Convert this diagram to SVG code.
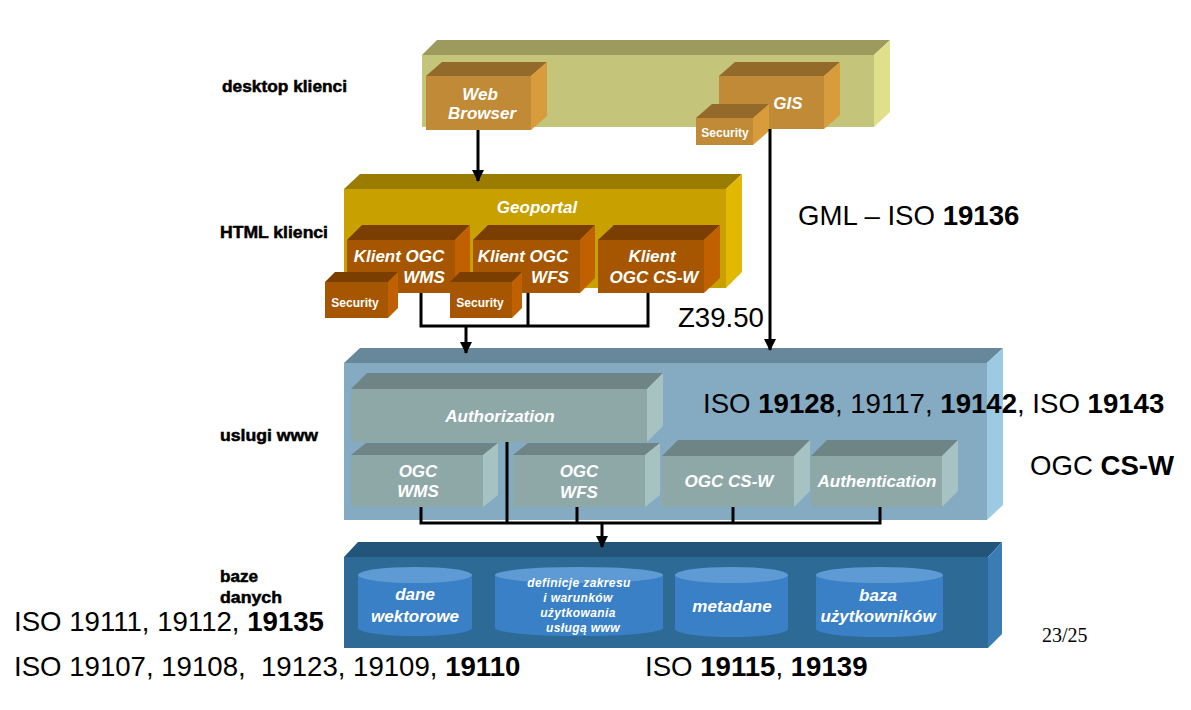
<svg xmlns="http://www.w3.org/2000/svg" width="1191" height="710" viewBox="0 0 1191 710">
<defs>
<marker id="arr" markerUnits="userSpaceOnUse" markerWidth="12" markerHeight="12" viewBox="0 0 12 12" refX="11" refY="6" orient="auto">
<path d="M0,0 L12,6 L0,12 Z" fill="#000"/>
</marker>
<style>
.lbl{font-family:"Liberation Sans",Arial,sans-serif;font-weight:bold;font-size:16px;fill:#000;stroke:#000;stroke-width:0.5px}
.std{font-family:"Liberation Sans",Arial,sans-serif;font-size:27.6px;fill:#000;white-space:pre}
.b{font-weight:bold}
.w{font-family:"Liberation Sans",Arial,sans-serif;font-weight:bold;font-style:italic;font-size:17px;fill:#fff;text-anchor:middle}
.sec{font-family:"Liberation Sans",Arial,sans-serif;font-weight:bold;font-size:12px;fill:#fff;text-anchor:middle}
.sm{font-family:"Liberation Sans",Arial,sans-serif;font-weight:bold;font-style:italic;font-size:12px;fill:#fff;text-anchor:middle;letter-spacing:0.4px}
.con{stroke:#000;stroke-width:3;fill:none}
.dF{fill:#c4c47a}.dT{fill:#9c9a5c}.dS{fill:#e0e08a}
.oF{fill:#c08a36}.oT{fill:#946a2a}.oS{fill:#d99c3c}
.gF{fill:#c8a000}.gT{fill:#9a7c00}.gS{fill:#e2b800}
.kF{fill:#a65600}.kT{fill:#7a3e00}.kS{fill:#c06000}
.sF{fill:#84abc2}.sT{fill:#66889a}.sS{fill:#9ccae2}
.bF{fill:#8ea8a8}.bT{fill:#6f8484}.bS{fill:#a6c2c2}
.zF{fill:#2e6a96}.zT{fill:#23557a}.zS{fill:#3a7cb4}
.cB{fill:#3a80c6}.cT{fill:#5e9bd4}
</style>
</defs>

<!-- Layer labels -->
<text class="lbl" x="222" y="92" textLength="125" lengthAdjust="spacingAndGlyphs">desktop klienci</text>
<text class="lbl" x="220" y="238" textLength="108" lengthAdjust="spacingAndGlyphs">HTML klienci</text>
<text class="lbl" x="220" y="441" textLength="98" lengthAdjust="spacingAndGlyphs">uslugi www</text>
<text class="lbl" x="220" y="582" textLength="38" lengthAdjust="spacingAndGlyphs">baze</text>
<text class="lbl" x="220" y="603" textLength="62" lengthAdjust="spacingAndGlyphs">danych</text>

<!-- Desktop band -->
<g id="desktop">
<polygon class="dT" points="422,55 437,40 890,40 874,55"/>
<rect class="dF" x="422" y="55" width="452" height="72"/>
<polygon class="dS" points="874,55 890,40 890,112 874,127"/>
</g>
<g id="webbrowser">
<polygon class="oT" points="426,76 442,62 547,62 531,76"/>
<rect class="oF" x="426" y="76" width="105" height="54"/>
<polygon class="oS" points="531,76 547,62 547,116 531,130"/>
<text class="w" x="480" y="100">Web</text>
<text class="w" x="482" y="119">Browser</text>
</g>
<g id="gis">
<polygon class="oT" points="719,76 735,62 840,62 824,76"/>
<rect class="oF" x="719" y="76" width="105" height="53"/>
<polygon class="oS" points="824,76 840,62 840,115 824,129"/>
<text class="w" x="788" y="109">GIS</text>
</g>
<g id="security-gis">
<polygon class="oT" points="696,118 712,104 769,104 753,118"/>
<rect class="oF" x="696" y="118" width="57" height="27"/>
<polygon class="oS" points="753,118 769,104 769,131 753,145"/>
<text class="sec" x="725" y="137">Security</text>
</g>

<!-- Geoportal band -->
<g id="geoportal">
<polygon class="gT" points="344,189 360,174 742,174 726,189"/>
<rect class="gF" x="344" y="189" width="382" height="99"/>
<polygon class="gS" points="726,189 742,174 742,272 726,288"/>
<text class="w" x="537" y="213">Geoportal</text>
</g>
<g id="klient-wms">
<polygon class="kT" points="347,240 362,225 470,225 455,240"/>
<rect class="kF" x="347" y="240" width="108" height="53"/>
<polygon class="kS" points="455,240 470,225 470,278 455,293"/>
<text class="w" x="399" y="262">Klient OGC</text>
<text class="w" x="424" y="283">WMS</text>
</g>
<g id="klient-wfs">
<polygon class="kT" points="473,240 488,225 595,225 580,240"/>
<rect class="kF" x="473" y="240" width="107" height="53"/>
<polygon class="kS" points="580,240 595,225 595,278 580,293"/>
<text class="w" x="523" y="262">Klient OGC</text>
<text class="w" x="550" y="283">WFS</text>
</g>
<g id="klient-csw">
<polygon class="kT" points="598,240 614,225 720,225 704,240"/>
<rect class="kF" x="598" y="240" width="106" height="53"/>
<polygon class="kS" points="704,240 720,225 720,278 704,293"/>
<text class="w" x="652" y="262">Klient</text>
<text class="w" x="654" y="283">OGC CS-W</text>
</g>
<g id="security-wms">
<polygon class="kT" points="325,282 335,272 398,272 388,282"/>
<rect class="kF" x="325" y="282" width="63" height="36"/>
<polygon class="kS" points="388,282 398,272 398,308 388,318"/>
<text class="sec" x="355" y="307">Security</text>
</g>
<g id="security-wfs">
<polygon class="kT" points="450,282 460,272 522,272 512,282"/>
<rect class="kF" x="450" y="282" width="62" height="36"/>
<polygon class="kS" points="512,282 522,272 522,308 512,318"/>
<text class="sec" x="480" y="307">Security</text>
</g>

<!-- Services band -->
<g id="uslugi">
<polygon class="sT" points="344,363 360,348 1003,348 987,363"/>
<rect class="sF" x="344" y="363" width="643" height="157"/>
<polygon class="sS" points="987,363 1003,348 1003,505 987,520"/>
</g>
<g id="authorization">
<polygon class="bT" points="351,389 367,373 663,373 647,389"/>
<rect class="bF" x="351" y="389" width="296" height="53"/>
<polygon class="bS" points="647,389 663,373 663,426 647,442"/>
<text class="w" x="500" y="422">Authorization</text>
</g>
<g id="ogc-wms">
<polygon class="bT" points="351,455 366,443 498,443 483,455"/>
<rect class="bF" x="351" y="455" width="132" height="52"/>
<polygon class="bS" points="483,455 498,443 498,495 483,507"/>
<text class="w" x="418" y="477">OGC</text>
<text class="w" x="418" y="497">WMS</text>
</g>
<g id="ogc-wfs">
<polygon class="bT" points="513,455 528,443 660,443 645,455"/>
<rect class="bF" x="513" y="455" width="132" height="52"/>
<polygon class="bS" points="645,455 660,443 660,495 645,507"/>
<text class="w" x="579" y="477">OGC</text>
<text class="w" x="579" y="498">WFS</text>
</g>
<g id="ogc-csw">
<polygon class="bT" points="662,456 678,440 810,440 794,456"/>
<rect class="bF" x="662" y="456" width="132" height="51"/>
<polygon class="bS" points="794,456 810,440 810,491 794,507"/>
<text class="w" x="729" y="487">OGC CS-W</text>
</g>
<g id="authentication">
<polygon class="bT" points="811,456 827,440 958,440 942,456"/>
<rect class="bF" x="811" y="456" width="131" height="51"/>
<polygon class="bS" points="942,456 958,440 958,491 942,507"/>
<text class="w" x="877" y="487">Authentication</text>
</g>

<!-- Database band -->
<g id="bazy">
<polygon class="zT" points="344,557 358,542 1002,542 988,557"/>
<rect class="zF" x="344" y="557" width="644" height="91"/>
<polygon class="zS" points="988,557 1002,542 1002,634 988,648"/>
</g>
<g id="dane-wektorowe">
<path class="cB" d="M358,575 L358,628 A57,8 0 0 0 472,628 L472,575 Z"/>
<ellipse class="cT" cx="415" cy="575" rx="57" ry="8"/>
<text class="w" x="415" y="600">dane</text>
<text class="w" x="415" y="622">wektorowe</text>
</g>
<g id="definicje">
<path class="cB" d="M495,575 L495,628 A84,8 0 0 0 663,628 L663,575 Z"/>
<ellipse class="cT" cx="579" cy="575" rx="84" ry="8"/>
<text class="sm" x="579" y="587">definicje zakresu</text>
<text class="sm" x="578" y="602">i warunków</text>
<text class="sm" x="578" y="617">użytkowania</text>
<text class="sm" x="583" y="632">usługą www</text>
</g>
<g id="metadane">
<path class="cB" d="M675,575 L675,629 A56.5,8 0 0 0 788,629 L788,575 Z"/>
<ellipse class="cT" cx="731.5" cy="575" rx="56.5" ry="8"/>
<text class="w" x="732" y="612">metadane</text>
</g>
<g id="baza-uzytkownikow">
<path class="cB" d="M816,575 L816,629 A63.5,8 0 0 0 943,629 L943,575 Z"/>
<ellipse class="cT" cx="879.5" cy="575" rx="63.5" ry="8"/>
<text class="w" x="878" y="601">baza</text>
<text class="w" x="878" y="622">użytkowników</text>
</g>

<!-- Connectors -->
<g id="connectors">
<line class="con" x1="478" y1="130" x2="478" y2="181" marker-end="url(#arr)"/>
<line class="con" x1="770" y1="129" x2="770" y2="350" marker-end="url(#arr)"/>
<polyline class="con" points="421,293 421,326 648,326 648,293"/>
<line class="con" x1="528" y1="293" x2="528" y2="326"/>
<line class="con" x1="466" y1="326" x2="466" y2="353" marker-end="url(#arr)"/>
<polyline class="con" points="421,507 421,523 880,523 880,507"/>
<line class="con" x1="507" y1="442" x2="507" y2="523"/>
<line class="con" x1="577" y1="507" x2="577" y2="523"/>
<line class="con" x1="733" y1="507" x2="733" y2="523"/>
<line class="con" x1="602" y1="523" x2="602" y2="547" marker-end="url(#arr)"/>
</g>

<!-- Standards texts -->
<text class="std" x="798" y="225">GML – ISO <tspan class="b">19136</tspan></text>
<text class="std" x="678" y="327">Z39.50</text>
<text class="std" x="703" y="413">ISO <tspan class="b">19128</tspan>, 19117, <tspan class="b">19142</tspan>, ISO <tspan class="b">19143</tspan></text>
<text class="std" x="1030" y="475">OGC <tspan class="b">CS-W</tspan></text>
<text class="std" x="14" y="631">ISO 19111, 19112, <tspan class="b">19135</tspan></text>
<text class="std" x="14" y="676" xml:space="preserve">ISO 19107, 19108,  19123, 19109, <tspan class="b">19110</tspan></text>
<text class="std" x="645" y="676">ISO <tspan class="b">19115</tspan>, <tspan class="b">19139</tspan></text>
<text x="1042" y="642" style="font-family:'Liberation Serif','Times New Roman',serif;font-size:20px;fill:#000">23/25</text>
</svg>
